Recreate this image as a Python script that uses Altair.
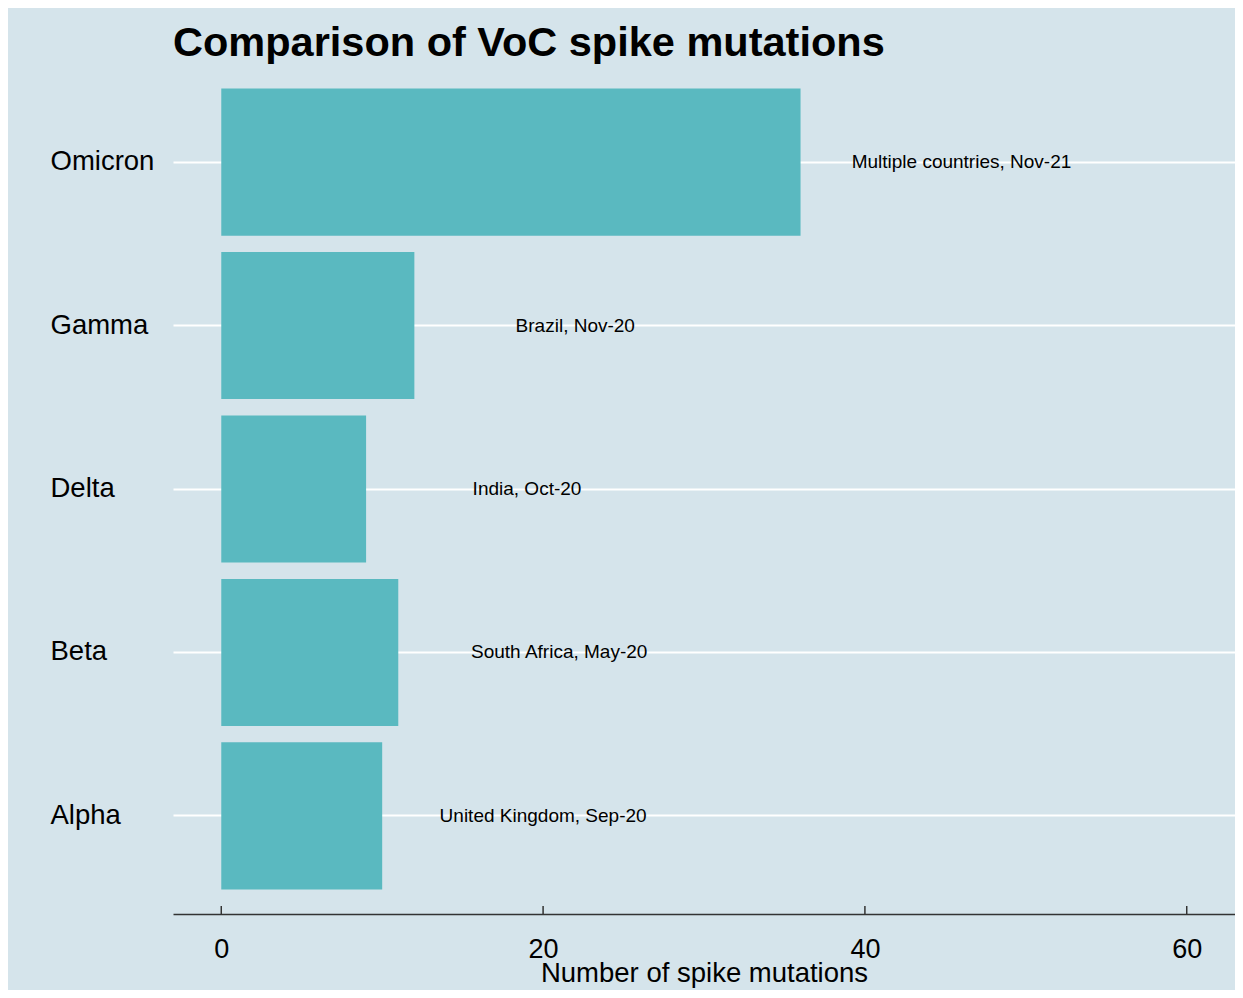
import altair as alt
import pandas as pd

variants = ["Alpha", "Beta", "Delta", "Gamma", "Omicron"]
mutations = [10, 11, 9, 12, 36]
origins = ["United Kingdom, Sep-20", "South Africa, May-20", "India, Oct-20",
           "Brazil, Nov-20", "Multiple countries, Nov-21"]
order = ["Omicron", "Gamma", "Delta", "Beta", "Alpha"]
x_ticks = [0, 20, 40, 60]

df = pd.DataFrame({"variant": variants, "n": mutations, "origin": origins})
ticks_df = pd.DataFrame({"t": x_ticks})

FONT = "Liberation Sans"
BG = "#d5e4eb"
BAR = "#5ab9c0"

W = 1062
H = 850

xscale = alt.Scale(domain=[-3, 63], nice=False, zero=False)
yscale = alt.Scale(paddingInner=0.1, paddingOuter=0.15)

bars = alt.Chart(df).mark_bar(color=BAR).encode(
    x=alt.X("n:Q", scale=xscale,
            axis=alt.Axis(values=x_ticks, title="Number of spike mutations",
                          grid=False, ticks=False, tickSize=0,
                          domainColor="#333333", domainWidth=1.5,
                          labelFont=FONT, labelFontSize=27, labelColor="#000000",
                          labelPadding=22,
                          titleFont=FONT, titleFontSize=27.5, titleFontWeight="normal",
                          titleColor="#000000", titleX=W / 2, titleY=67,
                          titleBaseline="alphabetic", titleAlign="center")),
    x2=alt.datum(0),
    y=alt.Y("variant:N", sort=order, scale=yscale,
            axis=alt.Axis(title=None, grid=True, gridColor="#ffffff", gridWidth=2,
                          domain=False, ticks=False, tickSize=0,
                          labelAlign="left", labelPadding=123,
                          labelFont=FONT, labelFontSize=27.5, labelColor="#000000",
                          labelBaseline="middle")),
)

labels = alt.Chart(df).transform_calculate(pos="datum.n + 10").mark_text(
    font=FONT, fontSize=19, color="#000000", align="center", baseline="middle"
).encode(
    x=alt.X("pos:Q", scale=xscale),
    y=alt.Y("variant:N", sort=order, scale=yscale),
    text="origin:N",
)

tickmarks = alt.Chart(ticks_df).mark_rule(color="#333333", strokeWidth=1.5).encode(
    x=alt.X("t:Q", scale=xscale),
    y=alt.value(H - 8),
    y2=alt.value(H),
)

chart = alt.layer(bars, labels, tickmarks).properties(
    width=W,
    height=H,
    title=alt.TitleParams("Comparison of VoC spike mutations", anchor="start",
                          frame="group", font=FONT, fontSize=41.5, fontWeight="bold",
                          color="#000000", baseline="alphabetic", offset=6, dy=39),
    autosize=alt.AutoSizeParams(type="none"),
    padding={"left": 165, "top": 56, "right": 0, "bottom": 76},
    background=BG,
).configure_view(fill=BG, stroke=None)

chart.save("out.html", embed_options={"renderer": "svg", "actions": False})
